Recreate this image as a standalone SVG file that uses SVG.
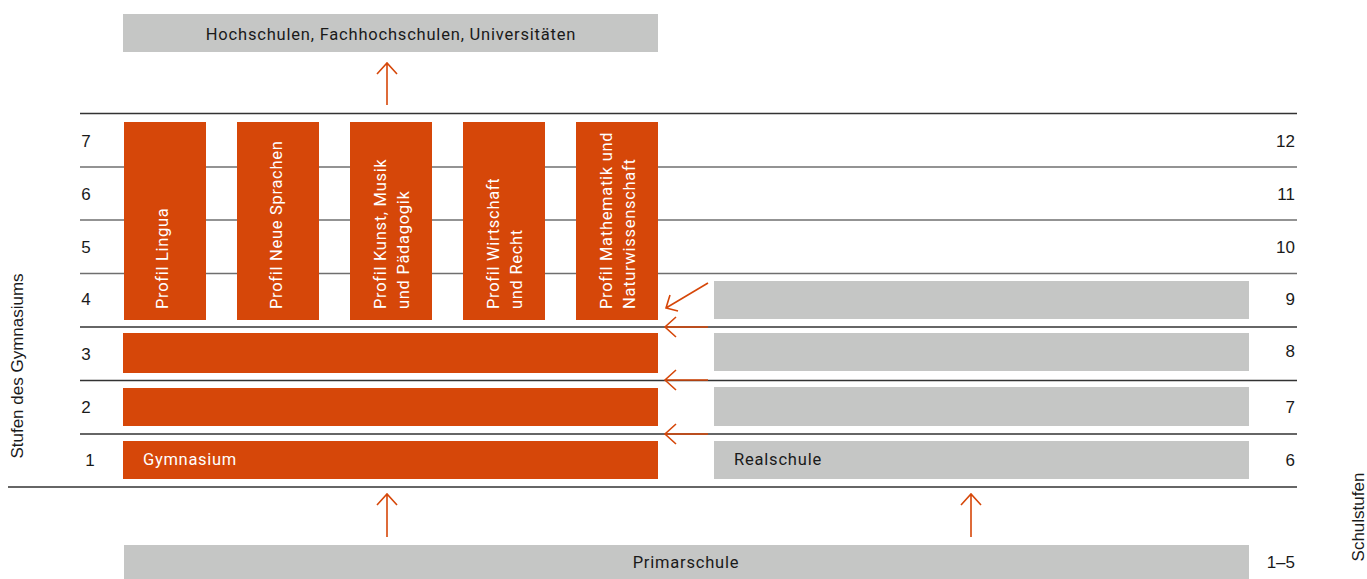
<svg xmlns="http://www.w3.org/2000/svg" width="1367" height="579" viewBox="0 0 1367 579">
<style>
.or{fill:#d64709}
.gr{fill:#c5c6c5}
.ln{stroke:#333;stroke-width:1.3}
.lg{stroke:#6f6f6f;stroke-width:1.3}
.num{font-family:"Liberation Sans",Arial,sans-serif;font-size:17px;fill:#1a1a1a}
.lab{font-family:Roboto,"Liberation Sans",sans-serif;font-size:16.5px;letter-spacing:0.8px;fill:#1a1a1a}
.wl{font-family:Roboto,"Liberation Sans",sans-serif;font-size:16.5px;letter-spacing:0.7px;fill:#fff}
.ar{stroke:#d64709;stroke-width:1.6;fill:none}
</style>
<rect width="1367" height="579" fill="#fff"/>
<g id="grid">
<line class="ln" x1="80" y1="113.5" x2="1297" y2="113.5"/>
<line class="lg" x1="80" y1="167" x2="1297" y2="167"/>
<line class="lg" x1="80" y1="220" x2="1297" y2="220"/>
<line class="lg" x1="80" y1="273.5" x2="1297" y2="273.5"/>
<line class="ln" x1="80" y1="327" x2="1297" y2="327"/>
<line class="ln" x1="80" y1="380.5" x2="1297" y2="380.5"/>
<line class="ln" x1="80" y1="434" x2="1297" y2="434"/>
<line class="ln" x1="8" y1="487" x2="1297" y2="487"/>
</g>
<g id="labels-left">
<text class="num" x="86" y="147" text-anchor="middle">7</text>
<text class="num" x="86" y="200" text-anchor="middle">6</text>
<text class="num" x="86" y="253" text-anchor="middle">5</text>
<text class="num" x="86" y="305" text-anchor="middle">4</text>
<text class="num" x="86" y="360" text-anchor="middle">3</text>
<text class="num" x="86" y="413" text-anchor="middle">2</text>
<text class="num" x="90" y="466" text-anchor="middle">1</text>
<text class="num" transform="translate(23,366) rotate(-90)" text-anchor="middle">Stufen des Gymnasiums</text>
</g>
<g id="labels-right">
<text class="num" x="1295" y="147" text-anchor="end">12</text>
<text class="num" x="1295" y="200" text-anchor="end">11</text>
<text class="num" x="1295" y="253" text-anchor="end">10</text>
<text class="num" x="1295" y="305" text-anchor="end">9</text>
<text class="num" x="1295" y="357" text-anchor="end">8</text>
<text class="num" x="1295" y="413" text-anchor="end">7</text>
<text class="num" x="1295" y="466" text-anchor="end">6</text>
<text class="num" x="1295" y="568" text-anchor="end">1–5</text>
<text class="num" transform="translate(1364,517) rotate(-90)" text-anchor="middle">Schulstufen</text>
</g>
<g id="hochschulen">
<rect class="gr" x="123" y="14" width="535" height="38"/>
<text class="lab" x="391" y="39.5" text-anchor="middle">Hochschulen, Fachhochschulen, Universitäten</text>
</g>
<g id="profil-lingua">
<rect class="or" x="124" y="122" width="82" height="198"/>
<text class="wl" transform="translate(168,309) rotate(-90)">Profil Lingua</text>
</g>
<g id="profil-neue-sprachen">
<rect class="or" x="237" y="122" width="82" height="198"/>
<text class="wl" transform="translate(282,309) rotate(-90)">Profil Neue Sprachen</text>
</g>
<g id="profil-kunst">
<rect class="or" x="350" y="122" width="82" height="198"/>
<text class="wl" transform="translate(386,309) rotate(-90)">Profil Kunst, Musik</text>
<text class="wl" transform="translate(409,309) rotate(-90)">und Pädagogik</text>
</g>
<g id="profil-wirtschaft">
<rect class="or" x="463" y="122" width="82" height="198"/>
<text class="wl" transform="translate(499,309) rotate(-90)">Profil Wirtschaft</text>
<text class="wl" transform="translate(522,309) rotate(-90)">und Recht</text>
</g>
<g id="profil-mathematik">
<rect class="or" x="576" y="122" width="82" height="198"/>
<text class="wl" transform="translate(612,309) rotate(-90)">Profil Mathematik und</text>
<text class="wl" transform="translate(635,309) rotate(-90)">Naturwissenschaft</text>
</g>
<g id="gymnasium-3"><rect class="or" x="123" y="333" width="535" height="40"/></g>
<g id="gymnasium-2"><rect class="or" x="123" y="388" width="535" height="38"/></g>
<g id="gymnasium-1">
<rect class="or" x="123" y="441" width="535" height="38"/>
<text class="wl" x="143" y="465">Gymnasium</text>
</g>
<g id="realschule-9"><rect class="gr" x="714" y="281" width="535" height="38"/></g>
<g id="realschule-8"><rect class="gr" x="714" y="333" width="535" height="38"/></g>
<g id="realschule-7"><rect class="gr" x="714" y="387" width="535" height="39"/></g>
<g id="realschule-6">
<rect class="gr" x="714" y="441" width="535" height="38"/>
<text class="lab" x="734" y="465">Realschule</text>
</g>
<g id="primarschule">
<rect class="gr" x="124" y="545" width="1125" height="34"/>
<text class="lab" x="686" y="568" text-anchor="middle">Primarschule</text>
</g>
<g id="connectors">
<path class="ar" d="M387 105 V63 M377 74 L387 63 L397 74"/>
<path class="ar" d="M387 537 V494 M377 505 L387 494 L397 505"/>
<path class="ar" d="M971 537 V494 M961 505 L971 494 L981 505"/>
<path class="ar" d="M708 327 H665 M676 317 L665 327 L676 337"/>
<path class="ar" d="M708 380 H665 M676 370 L665 380 L676 390"/>
<path class="ar" d="M708 434 H665 M676 424 L665 434 L676 444"/>
<path class="ar" d="M708 283 L666 308 M670 295 L666 308 L678 311"/>
</g>
</svg>
